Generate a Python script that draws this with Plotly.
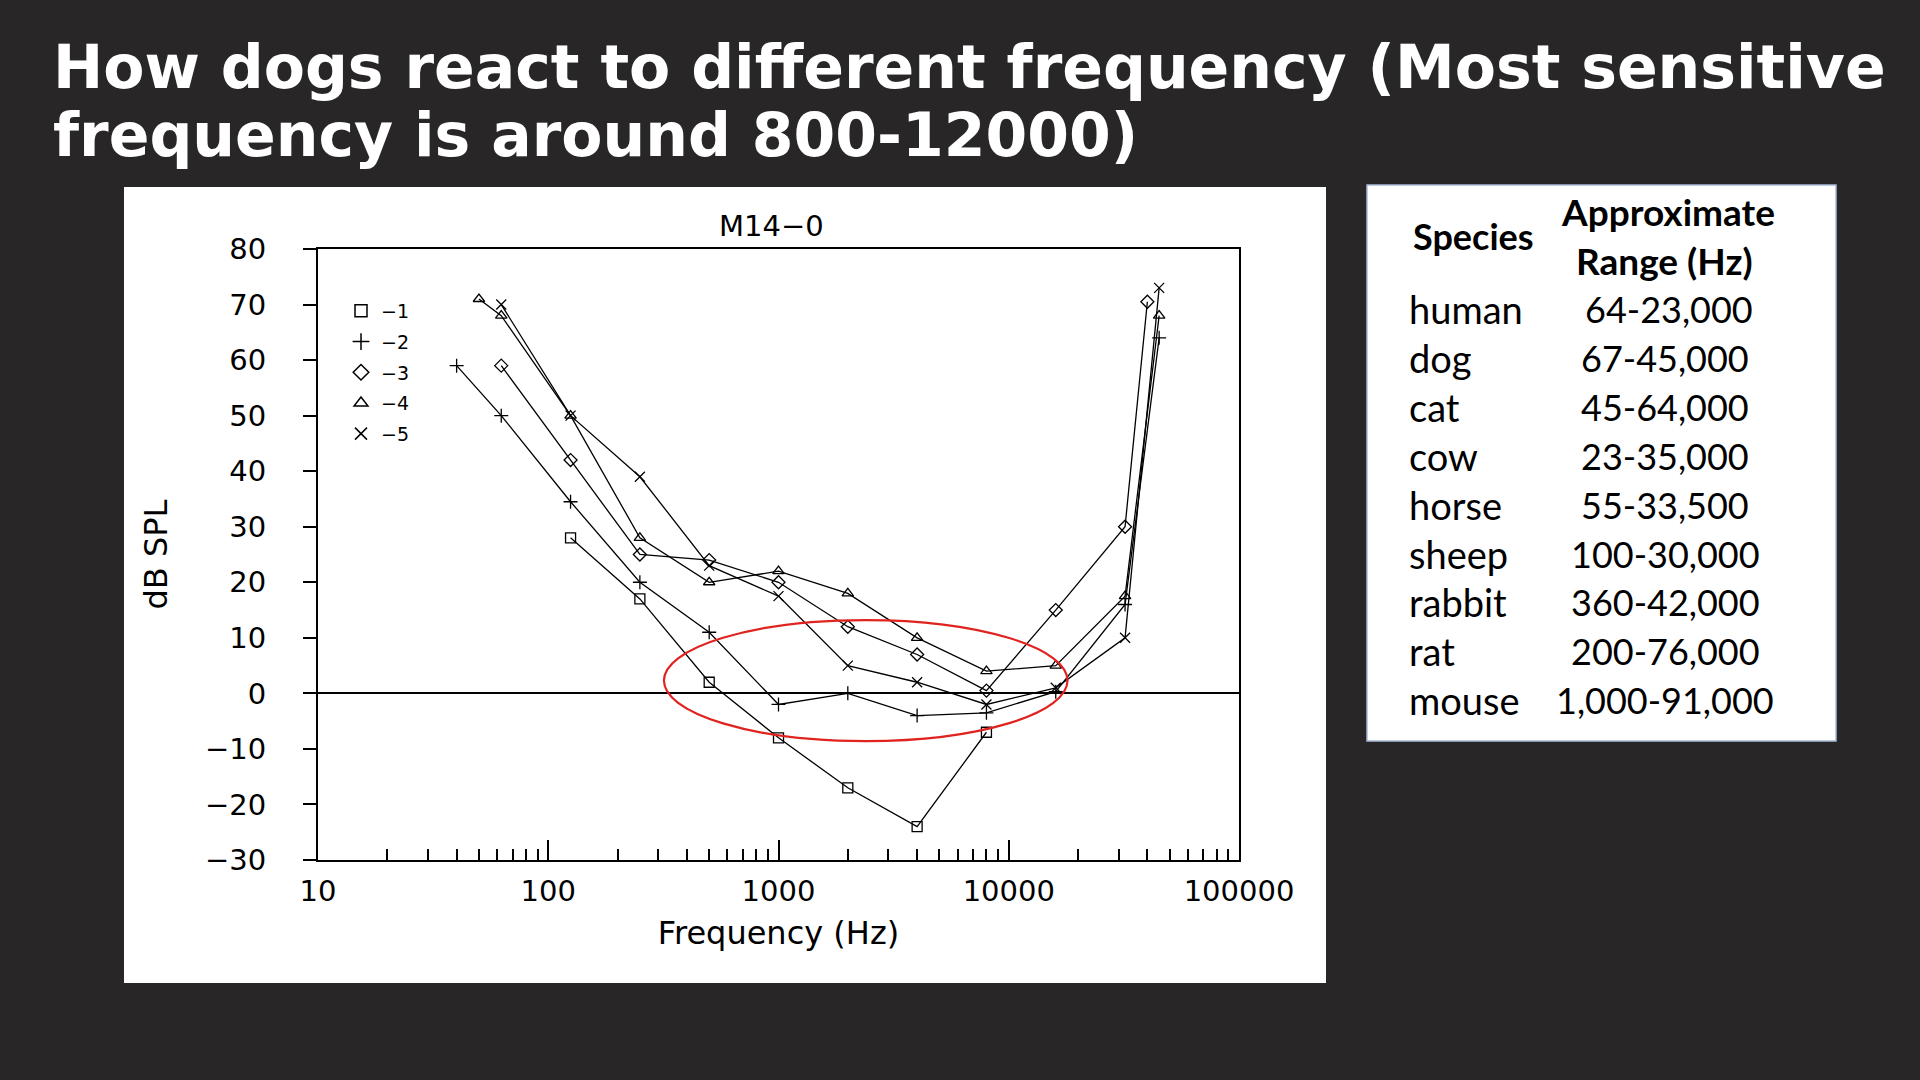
import plotly.graph_objects as go

# ---------------- data ----------------
freq_1 = [125, 250, 500, 1000, 2000, 4000, 8000]
db_1 = [28, 17, 2, -8, -17, -24, -7]

freq_2 = [40, 62.5, 125, 250, 500, 1000, 2000, 4000, 8000, 16000, 32000, 45000]
db_2 = [59, 50, 34.5, 20, 11, -2, 0, -4, -3.5, 0.3, 16, 64]

freq_3 = [62.5, 125, 250, 500, 1000, 2000, 4000, 8000, 16000, 32000, 40000]
db_3 = [59, 42, 25, 24, 20, 12, 7, 0.5, 15, 30, 70.5]

freq_4 = [50, 62.5, 125, 250, 500, 1000, 2000, 4000, 8000, 16000, 32000, 45000]
db_4 = [71, 68, 50, 28, 20, 22, 18, 10, 4, 5, 17.5, 68]

freq_5 = [62.5, 125, 250, 500, 1000, 2000, 4000, 8000, 16000, 32000, 45000]
db_5 = [70, 50, 39, 23, 17.5, 5, 2, -2, 1, 10, 73]

series_names = ["\u22121", "\u22122", "\u22123", "\u22124", "\u22125"]
series_symbols = ["square-open", "cross-thin-open", "diamond-open", "triangle-up-open", "x-thin-open"]

x_tick_vals = [10, 100, 1000, 10000, 100000]
x_tick_text = ["10", "100", "1000", "10000", "100000"]

species = ["human", "dog", "cat", "cow", "horse", "sheep", "rabbit", "rat", "mouse"]
ranges = ["64-23,000", "67-45,000", "45-64,000", "23-35,000", "55-33,500",
          "100-30,000", "360-42,000", "200-76,000", "1,000-91,000"]

title_line1 = "How dogs react to different frequency (Most sensitive"
title_line2 = "frequency is around 800-12000)"

# ---------------- figure ----------------
W, H = 1920, 1080
BG = "#282627"
ML, MR, MT, MB = 318, W - 1239, 249, H - 860
PW, PH = W - ML - MR, H - MT - MB

def px(x):
    return (x - ML) / PW

def py(y):
    return (H - MB - y) / PH

fig = go.Figure()

all_series = [(freq_1, db_1), (freq_2, db_2), (freq_3, db_3), (freq_4, db_4), (freq_5, db_5)]
for (fx, fy), name, sym in zip(all_series, series_names, series_symbols):
    fig.add_trace(go.Scatter(
        x=fx, y=fy, mode="lines+markers", name=name, showlegend=False,
        line=dict(color="black", width=1.3),
        marker=dict(symbol=sym, size=10, color="black", line=dict(color="black", width=1.3)),
        cliponaxis=False,
    ))

# legend-only entries (markers without lines, as in the original)
for i, (name, sym) in enumerate(zip(series_names, series_symbols)):
    fig.add_trace(go.Scatter(
        x=[None], y=[None], mode="markers", name=name, legendgroup=f"g{i}",
        marker=dict(symbol=sym, size=12, color="black", line=dict(color="black", width=1.5)),
    ))

FONT_SCAN = "DejaVu Sans"

fig.update_layout(
    width=W, height=H,
    paper_bgcolor=BG, plot_bgcolor="white",
    margin=dict(l=ML, r=MR, t=MT, b=MB, pad=0),
    showlegend=True,
    legend=dict(
        x=px(341), y=py(292), xanchor="left", yanchor="top",
        bgcolor="rgba(0,0,0,0)", borderwidth=0,
        font=dict(family=FONT_SCAN, size=19, color="black"),
        tracegroupgap=3, itemwidth=30,
    ),
    xaxis=dict(
        type="log", range=[1, 5], automargin=False,
        tickvals=x_tick_vals, ticktext=x_tick_text,
        ticks="inside", ticklen=20, tickwidth=2, tickcolor="black",
        minor=dict(ticks="inside", ticklen=11, tickwidth=1.5, tickcolor="black", dtick="D1", showgrid=False),
        showline=True, linecolor="black", linewidth=2, mirror=True,
        showgrid=False, zeroline=False,
        tickfont=dict(family=FONT_SCAN, size=29, color="black"),
        ticklabelstandoff=4,
        title=dict(text="Frequency (Hz)", font=dict(family=FONT_SCAN, size=32, color="black"), standoff=15),
    ),
    yaxis=dict(
        range=[-30, 80], dtick=10, automargin=False,
        ticks="outside", ticklen=13, tickwidth=2, tickcolor="black",
        showline=True, linecolor="black", linewidth=2, mirror=True,
        showgrid=False, zeroline=True, zerolinecolor="black", zerolinewidth=2,
        tickfont=dict(family=FONT_SCAN, size=29, color="black"),
        ticklabelstandoff=31,
        title=dict(text="dB SPL", font=dict(family=FONT_SCAN, size=32, color="black"), standoff=28),
    ),
)

# white panels (chart card + table card)
fig.add_shape(type="rect", xref="paper", yref="paper", layer="below",
              x0=px(124), x1=px(1326), y0=py(983), y1=py(187),
              fillcolor="white", line=dict(width=0))
fig.add_shape(type="rect", xref="paper", yref="paper", layer="below",
              x0=px(1367), x1=px(1836), y0=py(741), y1=py(185),
              fillcolor="white", line=dict(color="#a9bbd9", width=1.5))

# red highlight ellipse around the most sensitive region
fig.add_shape(type="circle", xref="x", yref="y", layer="above",
              x0=318, x1=18000, y0=-8.6, y1=13.2,
              line=dict(color="#e0231f", width=2.2), fillcolor="rgba(0,0,0,0)")

# chart heading inside the scanned figure
fig.add_annotation(text="M14\u22120", xref="paper", yref="paper", x=px(771), y=py(226),
                   xanchor="center", yanchor="middle", showarrow=False,
                   font=dict(family=FONT_SCAN, size=29, color="black"))

# slide title
TITLE_FONT = dict(family="DejaVu Sans", size=60, color="white", weight="bold")
fig.add_annotation(text=title_line1, xref="paper", yref="paper", x=px(51), y=py(67),
                   xanchor="left", yanchor="middle", showarrow=False, font=TITLE_FONT)
fig.add_annotation(text=title_line2, xref="paper", yref="paper", x=px(51), y=py(135),
                   xanchor="left", yanchor="middle", showarrow=False, font=TITLE_FONT)

# table
TFONT = "Lato"
fig.add_annotation(text="<b>Species</b>", xref="paper", yref="paper", x=px(1473), y=py(236),
                   xanchor="center", yanchor="middle", showarrow=False,
                   font=dict(family=TFONT, size=36, color="black"))
fig.add_annotation(text="<b>Approximate</b>", xref="paper", yref="paper", x=px(1668), y=py(212),
                   xanchor="center", yanchor="middle", showarrow=False,
                   font=dict(family=TFONT, size=37, color="black"))
fig.add_annotation(text="<b>Range (Hz)</b>", xref="paper", yref="paper", x=px(1664), y=py(260),
                   xanchor="center", yanchor="middle", showarrow=False,
                   font=dict(family=TFONT, size=37, color="black"))
for i, (s, r) in enumerate(zip(species, ranges)):
    yy = 309 + i * 48.9
    fig.add_annotation(text=s, xref="paper", yref="paper", x=px(1407), y=py(yy),
                       xanchor="left", yanchor="middle", showarrow=False,
                       font=dict(family=TFONT, size=38, color="black"))
    fig.add_annotation(text=r, xref="paper", yref="paper", x=px(1665 + (4 if i == 0 else 0)), y=py(yy),
                       xanchor="center", yanchor="middle", showarrow=False,
                       font=dict(family=TFONT, size=36, color="black"))

fig.write_html(
    "out.html",
    config={"displayModeBar": False},
    post_script="document.body.style.margin='0px';document.body.style.background='" + BG + "';",
)
